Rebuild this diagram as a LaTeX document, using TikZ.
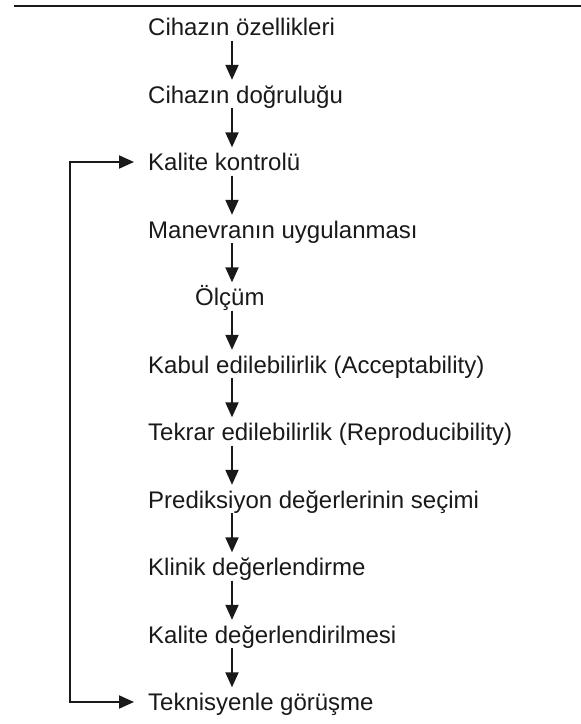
\documentclass[tikz,border=0pt]{standalone}
\usepackage{fontspec}
\setmainfont{Liberation Sans}
\usepackage{tikz}
\usetikzlibrary{arrows.meta}
\definecolor{ink}{RGB}{25,25,25}

\begin{document}
\begin{tikzpicture}[x=1pt,y=1pt,
  >={Triangle[length=15pt,width=13pt]},
  row/.style={anchor=base west,inner sep=0pt,text height=17pt,text depth=0pt,
              font=\fontsize{24}{28}\selectfont,text=ink},
  flow/.style={->,line width=2pt,draw=ink,shorten <=5pt,shorten >=6pt},
]
  \useasboundingbox (0,0) rectangle (581,-724);

  %% top rule
  \draw[ink,line width=2.5pt] (14,-6) -- (581,-6);

  %% steps
  \coordinate (ax) at (232,0);
  \coordinate (lp) at (70,0);
  \foreach \i/\dx/\txt in {
      1/0/Cihazın özellikleri,
      2/0/Cihazın doğruluğu,
      3/0/Kalite kontrolü,
      4/0/Manevranın uygulanması,
      5/47/Ölçüm,
      6/0/Kabul edilebilirlik (Acceptability),
      7/0/Tekrar edilebilirlik (Reproducibility),
      8/0/Prediksiyon değerlerinin seçimi,
      9/0/Klinik değerlendirme,
      10/0/Kalite değerlendirilmesi,
      11/0/Teknisyenle görüşme}{%
    \node[row] (r\i) at (148+\dx,{-35.5-67.5*(\i-1)}) {\txt};
  }

  %% downward arrows
  \foreach \i [evaluate=\i as \j using int(\i+1)] in {1,...,10}{%
    \draw[flow] (r\i.south -| ax) -- (r\j.north -| ax);
  }

  %% feedback loop
  \draw[<->,line width=2pt,draw=ink,shorten <=14pt,shorten >=14pt]
    (r3.west) -- (r3.west -| lp) |- (r11.west);
\end{tikzpicture}
\end{document}
